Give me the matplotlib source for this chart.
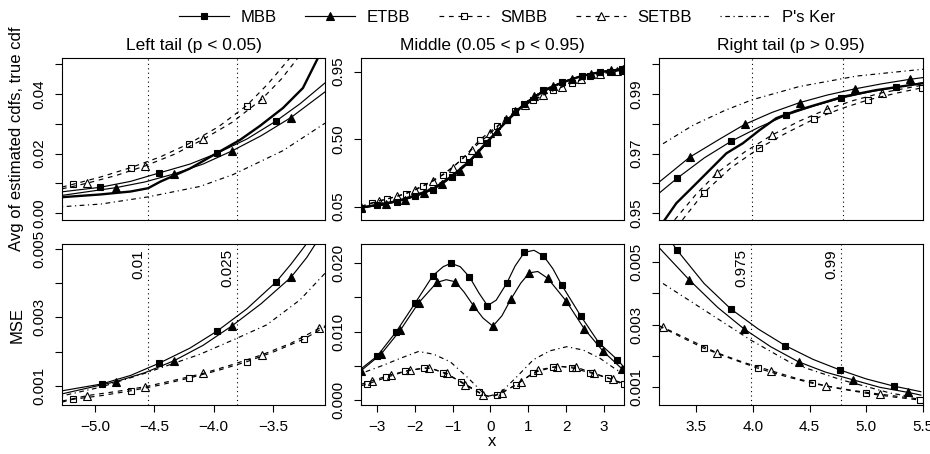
import numpy as np
import matplotlib.pyplot as plt
from matplotlib.lines import Line2D
from matplotlib.transforms import blended_transform_factory, offset_copy

plt.rcParams['font.family'] = ['Liberation Sans', 'DejaVu Sans']
plt.rcParams['axes.linewidth'] = 0.8

# ---- data ----
methods = ["MBB", "ETBB", "SMBB", "SETBB", "P's Ker"]
q_left = [-4.553, -3.804]
q_left_lab = ["0.01", "0.025"]
q_right = [3.983, 4.779]
q_right_lab = ["0.975", "0.99"]

# top-left: avg estimated cdf, left tail
tl_mbb_x = [-5.278, -4.958, -4.70, -4.461, -4.20, -3.972, -3.72, -3.475, -3.273, -3.062]
tl_mbb = [0.0072, 0.0087, 0.0107, 0.0135, 0.0165, 0.0201, 0.0249, 0.0309, 0.0367, 0.0437]
tl_etbb_x = [-5.278, -4.823, -4.58, -4.334, -4.09, -3.846, -3.60, -3.349, -3.062]
tl_etbb = [0.0060, 0.0086, 0.0105, 0.0132, 0.0165, 0.0209, 0.0260, 0.0321, 0.0407]
tl_smbb_x = [-5.278, -5.188, -4.95, -4.699, -4.45, -4.211, -3.96, -3.722, -3.54, -3.357]
tl_smbb = [0.0088, 0.0097, 0.0122, 0.0153, 0.0189, 0.0233, 0.0290, 0.0361, 0.0435, 0.0521]
tl_setbb_x = [-5.278, -5.065, -4.82, -4.576, -4.33, -4.088, -3.84, -3.596, -3.43, -3.290]
tl_setbb = [0.0082, 0.0101, 0.0127, 0.0159, 0.0198, 0.0248, 0.0306, 0.0382, 0.0450, 0.0521]
tl_pker_x = [-5.278, -4.95, -4.553, -4.115, -3.835, -3.416, -3.062]
tl_pker = [0.0022, 0.0031, 0.0055, 0.0090, 0.0130, 0.0210, 0.0302]
tl_true_x = [-5.278, -4.958, -4.70, -4.553, -4.45, -4.20, -3.972, -3.778, -3.61, -3.416, -3.248, -3.121]
tl_true = [0.0054, 0.0063, 0.0073, 0.0084, 0.0106, 0.0150, 0.0202, 0.0246, 0.0293, 0.0353, 0.0420, 0.0521]

# top-middle
tm_mbb_x = [-3.42, -3.01, -2.48, -2.00, -1.51, -1.03, -0.56, -0.10, 0.43, 0.89, 1.40, 1.88, 2.41, 2.90, 3.47]
tm_mbb = [0.041, 0.059, 0.081, 0.119, 0.163, 0.248, 0.345, 0.475, 0.625, 0.737, 0.825, 0.879, 0.923, 0.948, 0.968]
tm_etbb_x = [-3.42, -2.75, -2.25, -1.75, -1.27, -0.80, -0.33, 0.17, 0.66, 1.15, 1.64, 2.15, 2.65, 3.18, 3.50]
tm_etbb = [0.040, 0.068, 0.097, 0.138, 0.200, 0.290, 0.405, 0.555, 0.688, 0.785, 0.855, 0.903, 0.937, 0.958, 0.968]
tm_smbb_x = [-3.42, -3.14, -2.73, -2.23, -1.78, -1.25, -0.74, -0.28, 0.17, 0.65, 1.13, 1.66, 2.15, 2.63, 3.16, 3.51]
tm_smbb = [0.052, 0.075, 0.101, 0.137, 0.190, 0.263, 0.368, 0.497, 0.585, 0.685, 0.763, 0.825, 0.875, 0.919, 0.948, 0.963]
tm_setbb_x = [-3.42, -2.95, -2.48, -2.00, -1.52, -1.00, -0.50, 0.00, 0.40, 0.90, 1.40, 1.90, 2.40, 2.90, 3.35, 3.51]
tm_setbb = [0.050, 0.088, 0.118, 0.160, 0.220, 0.310, 0.430, 0.540, 0.635, 0.725, 0.795, 0.850, 0.898, 0.935, 0.955, 0.962]
tm_pker_x = [-3.42, -2.5, -2.0, -1.5, -1.0, -0.5, 0.0, 0.5, 1.0, 1.5, 2.0, 2.5, 3.0, 3.51]
tm_pker = [0.045, 0.088, 0.125, 0.180, 0.265, 0.370, 0.500, 0.640, 0.760, 0.840, 0.890, 0.928, 0.950, 0.965]
tm_true_x = tm_mbb_x
tm_true = [0.043, 0.062, 0.086, 0.124, 0.170, 0.252, 0.352, 0.480, 0.620, 0.732, 0.820, 0.876, 0.921, 0.947, 0.966]

# top-right
tr_mbb_x = [3.179, 3.330, 3.57, 3.806, 4.05, 4.287, 4.53, 4.767, 5.00, 5.242, 5.481]
tr_mbb = [0.9569, 0.9617, 0.9686, 0.9742, 0.9789, 0.9829, 0.9860, 0.9886, 0.9906, 0.9922, 0.9938]
tr_etbb_x = [3.179, 3.441, 3.70, 3.922, 4.16, 4.403, 4.64, 4.884, 5.12, 5.364, 5.481]
tr_etbb = [0.9606, 0.9688, 0.9748, 0.9798, 0.9838, 0.9871, 0.9896, 0.9917, 0.9934, 0.9949, 0.9955]
tr_smbb_x = [3.378, 3.566, 3.80, 4.047, 4.29, 4.525, 4.76, 5.000, 5.24, 5.476]
tr_smbb = [0.9478, 0.9569, 0.9652, 0.9718, 0.9770, 0.9815, 0.9850, 0.9880, 0.9902, 0.9921]
tr_setbb_x = [3.310, 3.50, 3.684, 3.92, 4.164, 4.40, 4.642, 4.88, 5.122, 5.481]
tr_setbb = [0.9478, 0.9565, 0.9636, 0.9705, 0.9763, 0.9809, 0.9849, 0.9879, 0.9904, 0.9930]
tr_pker_x = [3.173, 3.47, 3.75, 3.983, 4.40, 4.90, 5.481]
tr_pker = [0.9725, 0.9795, 0.9845, 0.9880, 0.9925, 0.9960, 0.9983]
tr_true_x = [3.223, 3.325, 3.470, 3.616, 3.762, 3.907, 4.053, 4.199, 4.374, 4.636, 4.781, 5.073, 5.481]
tr_true = [0.9478, 0.9534, 0.9589, 0.9645, 0.9701, 0.9735, 0.9779, 0.9819, 0.9844, 0.9874, 0.9891, 0.9913, 0.9936]

# bottom-left: MSE, left tail
bl_mbb_x = [-5.278, -4.944, -4.70, -4.458, -4.20, -3.970, -3.72, -3.475, -3.35, -3.216]
bl_mbb = [0.00085, 0.00105, 0.00130, 0.00166, 0.00210, 0.00260, 0.00325, 0.00403, 0.00455, 0.00516]
bl_etbb_x = [-5.278, -4.823, -4.58, -4.334, -4.09, -3.846, -3.60, -3.349, -3.216, -3.14]
bl_etbb = [0.00076, 0.00112, 0.00138, 0.00173, 0.00218, 0.00275, 0.00340, 0.00417, 0.00475, 0.00516]
bl_smbb_x = [-5.278, -5.188, -4.944, -4.699, -4.45, -4.211, -3.96, -3.722, -3.48, -3.237, -3.062]
bl_smbb = [0.00052, 0.00060, 0.00071, 0.00085, 0.00102, 0.00122, 0.00145, 0.00170, 0.00201, 0.00237, 0.00272]
bl_setbb_x = [-5.278, -5.065, -4.82, -4.576, -4.33, -4.088, -3.84, -3.596, -3.35, -3.110, -3.062]
bl_setbb = [0.00055, 0.00071, 0.00083, 0.00097, 0.00116, 0.00136, 0.00162, 0.00190, 0.00224, 0.00268, 0.00275]
bl_pker_x = [-5.278, -4.95, -4.564, -4.115, -3.835, -3.553, -3.273, -3.062]
bl_pker = [0.00070, 0.00096, 0.00138, 0.00192, 0.00234, 0.00278, 0.00351, 0.00429]

# bottom-middle
bm_mbb_x = [-3.414, -3.000, -2.491, -1.989, -1.522, -1.25, -1.046, -0.80, -0.555, -0.30, -0.080, 0.15,
            0.432, 0.65, 0.897, 1.15, 1.398, 1.65, 1.884, 2.385, 2.861, 3.352, 3.529]
bm_mbb = [0.0046, 0.0064, 0.0100, 0.0142, 0.0182, 0.0195, 0.0200, 0.0195, 0.0180, 0.0156, 0.0138, 0.0146,
          0.0171, 0.0196, 0.0216, 0.0219, 0.0211, 0.0192, 0.0168, 0.0123, 0.0084, 0.0059, 0.0048]
bm_etbb_x = [-3.42, -2.894, -2.385, -1.902, -1.416, -1.17, -0.933, -0.70, -0.450, -0.20, 0.062, 0.30,
             0.545, 0.80, 1.029, 1.25, 1.514, 1.997, 2.480, 2.982, 3.468, 3.529]
bm_etbb = [0.0043, 0.0067, 0.0102, 0.0142, 0.0172, 0.0176, 0.0173, 0.0158, 0.0138, 0.0120, 0.0108, 0.0123,
           0.0148, 0.0171, 0.0186, 0.0188, 0.0178, 0.0145, 0.0104, 0.0071, 0.0046, 0.0043]
bm_smbb_x = [-3.42, -3.264, -2.754, -2.253, -1.751, -1.50, -1.258, -0.782, -0.291, -0.05, 0.184, 0.678,
             1.135, 1.647, 1.90, 2.148, 2.631, 3.114, 3.529]
bm_smbb = [0.0021, 0.0023, 0.0033, 0.0042, 0.0047, 0.0045, 0.0040, 0.0027, 0.0011, 0.0005, 0.0008, 0.0022,
           0.0040, 0.0048, 0.0049, 0.0047, 0.0040, 0.0032, 0.0024]
bm_setbb_x = [-3.42, -3.132, -2.630, -2.121, -1.638, -1.152, -0.669, -0.186, 0.05, 0.300, 0.801, 1.266,
              1.752, 2.261, 2.745, 3.230, 3.529]
bm_setbb = [0.0023, 0.0028, 0.0037, 0.0044, 0.0047, 0.0039, 0.0022, 0.0007, 0.0005, 0.0010, 0.0027, 0.0044,
            0.0049, 0.0048, 0.0039, 0.0030, 0.0022]
bm_pker_x = [-3.414, -2.826, -2.385, -1.902, -1.506, -1.065, -0.624, -0.096, 0.255, 0.696, 1.134, 1.575,
             2.016, 2.454, 2.895, 3.336, 3.529]
bm_pker = [0.0039, 0.0051, 0.0061, 0.0071, 0.0067, 0.0056, 0.0034, 0.0005, 0.0010, 0.0034, 0.0059, 0.0072,
           0.0078, 0.0073, 0.0061, 0.0044, 0.0039]

# bottom-right
br_mbb_x = [3.294, 3.330, 3.57, 3.806, 4.05, 4.287, 4.53, 4.767, 5.00, 5.242, 5.481]
br_mbb = [0.00559, 0.00540, 0.00432, 0.00350, 0.00285, 0.00232, 0.00188, 0.00154, 0.00125, 0.00102, 0.00084]
br_etbb_x = [3.179, 3.441, 3.69, 3.922, 4.16, 4.403, 4.64, 4.884, 5.12, 5.364, 5.481]
br_etbb = [0.00545, 0.00443, 0.00355, 0.00286, 0.00228, 0.00180, 0.00147, 0.00122, 0.00098, 0.00082, 0.00073]
br_smbb_x = [3.173, 3.566, 3.81, 4.047, 4.29, 4.525, 4.76, 5.000, 5.24, 5.476]
br_smbb = [0.00295, 0.00224, 0.00190, 0.00159, 0.00133, 0.00111, 0.00094, 0.00079, 0.00067, 0.00057]
br_setbb_x = [3.173, 3.208, 3.684, 3.92, 4.164, 4.40, 4.642, 4.88, 5.122, 5.481]
br_setbb = [0.00296, 0.00291, 0.00209, 0.00178, 0.00151, 0.00125, 0.00103, 0.00088, 0.00076, 0.00060]
br_pker_x = [3.173, 3.616, 3.981, 4.344, 4.781, 5.218, 5.481]
br_pker = [0.00440, 0.00336, 0.00250, 0.00175, 0.00122, 0.00079, 0.00063]

# ---- styles ----
dash = (0, (4, 4))
dashdot = (0, (1, 3, 4, 3))
styles = {
    "MBB": dict(ls='-', marker='s', ms=4.8, mfc='black'),
    "ETBB": dict(ls='-', marker='^', ms=5.5, mfc='black'),
    "SMBB": dict(ls=dash, marker='s', ms=4.5, mfc='none'),
    "SETBB": dict(ls=dash, marker='^', ms=6, mfc='none'),
    "P's Ker": dict(ls=dashdot, marker=None),
}


def draw(ax, name, x, y, marks=None):
    st = styles[name]
    ax.plot(x, y, color='black', lw=0.85, ls=st['ls'], marker=st['marker'],
            ms=st.get('ms', 0), mfc=st.get('mfc', 'black'), mec='black', mew=0.8,
            markevery=marks, clip_on=True)


fig = plt.figure(figsize=(9.3, 4.54), dpi=100)
W, H = 930, 454
cols = [(62, 325), (361, 624), (659, 923)]
rows = [(58, 220), (244, 405)]


def make_ax(r, c):
    (x0, x1), (y0, y1) = cols[c], rows[r]
    return fig.add_axes([x0 / W, 1 - y1 / H, (x1 - x0) / W, (y1 - y0) / H])


axes = [[make_ax(r, c) for c in range(3)] for r in range(2)]
xlims = [(-5.278, -3.062), (-3.423, 3.529), (3.173, 5.481)]
ylims = [[(-0.00225, 0.05206), (-0.039, 1.041), (0.94775, 1.00206)],
         [(0.000435, 0.005146), (-0.00073, 0.02282), (0.000412, 0.005588)]]

# top row
ax = axes[0][0]
draw(ax, "MBB", tl_mbb_x, tl_mbb, [1, 3, 5, 7])
draw(ax, "ETBB", tl_etbb_x, tl_etbb, [1, 3, 5, 7])
draw(ax, "SMBB", tl_smbb_x, tl_smbb, [1, 3, 5, 7])
draw(ax, "SETBB", tl_setbb_x, tl_setbb, [1, 3, 5, 7])
draw(ax, "P's Ker", tl_pker_x, tl_pker)
ax.plot(tl_true_x, tl_true, color='black', lw=1.7)

ax = axes[0][1]
draw(ax, "MBB", tm_mbb_x, tm_mbb, list(range(1, 15)))
draw(ax, "ETBB", tm_etbb_x, tm_etbb, list(range(0, 15)))
draw(ax, "SMBB", tm_smbb_x, tm_smbb, list(range(1, 16)))
draw(ax, "SETBB", tm_setbb_x, tm_setbb, list(range(0, 16)))
draw(ax, "P's Ker", tm_pker_x, tm_pker)
ax.plot(tm_true_x, tm_true, color='black', lw=1.7)

ax = axes[0][2]
draw(ax, "MBB", tr_mbb_x, tr_mbb, [1, 3, 5, 7, 9])
draw(ax, "ETBB", tr_etbb_x, tr_etbb, [1, 3, 5, 7, 9])
draw(ax, "SMBB", tr_smbb_x, tr_smbb, [1, 3, 5, 7, 9])
draw(ax, "SETBB", tr_setbb_x, tr_setbb, [2, 4, 6, 8])
draw(ax, "P's Ker", tr_pker_x, tr_pker)
ax.plot(tr_true_x, tr_true, color='black', lw=1.7)

# bottom row
ax = axes[1][0]
draw(ax, "MBB", bl_mbb_x, bl_mbb, [1, 3, 5, 7])
draw(ax, "ETBB", bl_etbb_x, bl_etbb, [1, 3, 5, 7])
draw(ax, "SMBB", bl_smbb_x, bl_smbb, [1, 3, 5, 7, 9])
draw(ax, "SETBB", bl_setbb_x, bl_setbb, [1, 3, 5, 7, 9])
draw(ax, "P's Ker", bl_pker_x, bl_pker)

ax = axes[1][1]
draw(ax, "MBB", bm_mbb_x, bm_mbb, [1, 2, 3, 4, 6, 8, 10, 12, 14, 16, 18, 19, 20, 21])
draw(ax, "ETBB", bm_etbb_x, bm_etbb, [0, 1, 2, 3, 4, 6, 8, 10, 12, 14, 16, 17, 18, 19, 20])
draw(ax, "SMBB", bm_smbb_x, bm_smbb, [1, 2, 3, 4, 6, 7, 8, 10, 11, 12, 13, 15, 16, 17, 18])
draw(ax, "SETBB", bm_setbb_x, bm_setbb, [1, 2, 3, 4, 5, 6, 7, 9, 10, 11, 12, 13, 14, 15])
draw(ax, "P's Ker", bm_pker_x, bm_pker)

ax = axes[1][2]
draw(ax, "MBB", br_mbb_x, br_mbb, [1, 3, 5, 7, 9])
draw(ax, "ETBB", br_etbb_x, br_etbb, [1, 3, 5, 7, 9])
draw(ax, "SMBB", br_smbb_x, br_smbb, [1, 3, 5, 7, 9])
draw(ax, "SETBB", br_setbb_x, br_setbb, [1, 2, 4, 6, 8])
draw(ax, "P's Ker", br_pker_x, br_pker)

# quantile lines
for r in range(2):
    for c, qs, labs in [(0, q_left, q_left_lab), (2, q_right, q_right_lab)]:
        ax = axes[r][c]
        for q, lab in zip(qs, labs):
            ax.axvline(q, color='black', lw=0.8, ls=(0, (1, 3)))
            if r == 1:
                tr = blended_transform_factory(ax.transData, ax.transAxes)
                tr = offset_copy(tr, fig=fig, x=-3, y=-5, units='dots')
                ax.text(q, 1.0, lab, rotation=90, ha='right', va='top',
                        fontsize=11, transform=tr)

# axes formatting
ytick_sets = [
    [(np.arange(0, 0.051, 0.01), {0.0: "0.00", 0.02: "0.02", 0.04: "0.04"}),
     ([0.05, 0.50, 0.95], {0.05: "0.05", 0.50: "0.50", 0.95: "0.95"}),
     (np.arange(0.95, 1.0001, 0.01), {0.95: "0.95", 0.97: "0.97", 0.99: "0.99"})],
    [(np.arange(0.001, 0.00501, 0.001), {0.001: "0.001", 0.003: "0.003", 0.005: "0.005"}),
     (np.arange(0, 0.0201, 0.005), {0.0: "0.000", 0.01: "0.010", 0.02: "0.020"}),
     (np.arange(0.001, 0.00501, 0.001), {0.001: "0.001", 0.003: "0.003", 0.005: "0.005"})],
]
xticks = [[-5.0, -4.5, -4.0, -3.5], [-3, -2, -1, 0, 1, 2, 3], [3.5, 4.0, 4.5, 5.0, 5.5]]
xticklabels = [["\u22125.0", "\u22124.5", "\u22124.0", "\u22123.5"],
               ["\u22123", "\u22122", "\u22121", "0", "1", "2", "3"],
               ["3.5", "4.0", "4.5", "5.0", "5.5"]]
titles = ["Left tail (p < 0.05)", "Middle (0.05 < p < 0.95)", "Right tail (p > 0.95)"]

for r in range(2):
    for c in range(3):
        ax = axes[r][c]
        ax.set_xlim(*xlims[c])
        ax.set_ylim(*ylims[r][c])
        ticks, labmap = ytick_sets[r][c]
        labs = []
        for t in ticks:
            key = [k for k in labmap if abs(k - t) < 1e-9]
            labs.append(labmap[key[0]] if key else "")
        ax.set_yticks(ticks, labs)
        ax.tick_params(axis='y', direction='out', length=5, width=0.8, pad=6,
                       labelsize=11, labelrotation=90)
        for lab in ax.get_yticklabels():
            lab.set_va('center')
        if r == 0:
            ax.set_xticks([])
            ax.set_title(titles[c], fontsize=12.5, pad=6)
        else:
            ax.set_xticks(xticks[c], xticklabels[c])
            ax.tick_params(axis='x', direction='out', length=5, width=0.8, pad=6,
                           labelsize=11)

fig.text(17 / W, 1 - 139 / H, "Avg of estimated cdfs, true cdf", rotation=90,
         ha='center', va='center', fontsize=12)
fig.text(17 / W, 1 - 325 / H, "MSE", rotation=90, ha='center', va='center', fontsize=12)
fig.text(492 / W, 1 - 441 / H, "x", ha='center', va='center', fontsize=12)

handles = []
for m in methods:
    st = styles[m]
    handles.append(Line2D([], [], color='black', lw=0.85, ls=st['ls'], marker=st['marker'],
                          ms=st.get('ms', 0), mfc=st.get('mfc', 'black'), mec='black', mew=0.8))
fig.legend(handles, methods, loc='center', bbox_to_anchor=(507 / W, 1 - 17 / H), ncol=5,
           frameon=False, numpoints=1, handlelength=3.0, handletextpad=0.7,
           columnspacing=1.7, fontsize=12)

fig.savefig("out.png", dpi=100)
